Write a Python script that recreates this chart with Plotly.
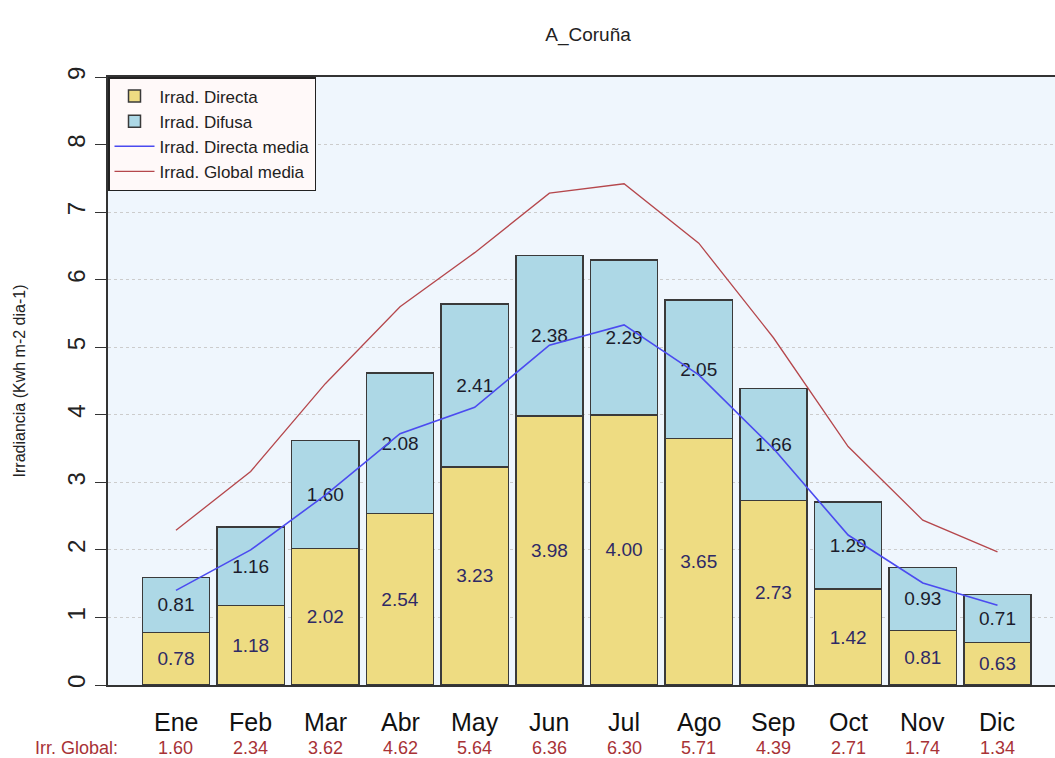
import plotly.graph_objects as go

meses = ['Ene', 'Feb', 'Mar', 'Abr', 'May', 'Jun', 'Jul', 'Ago', 'Sep', 'Oct', 'Nov', 'Dic']
directa = [0.78, 1.18, 2.02, 2.54, 3.23, 3.98, 4.00, 3.65, 2.73, 1.42, 0.81, 0.63]
difusa = [0.81, 1.16, 1.60, 2.08, 2.41, 2.38, 2.29, 2.05, 1.66, 1.29, 0.93, 0.71]
irr_global = ['1.60', '2.34', '3.62', '4.62', '5.64', '6.36', '6.30', '5.71', '4.39', '2.71', '1.74', '1.34']
directa_media = [1.40, 2.00, 2.81, 3.72, 4.11, 5.03, 5.33, 4.59, 3.50, 2.22, 1.51, 1.18]
global_media = [2.29, 3.16, 4.46, 5.60, 6.40, 7.28, 7.42, 6.54, 5.14, 3.53, 2.44, 1.97]

x = list(range(len(meses)))
font = 'Liberation Sans, Arial, sans-serif'

fig = go.Figure()

fig.add_trace(go.Bar(
    x=x, y=directa, name='Irrad. Directa', width=0.9,
    marker=dict(color='#EEDC82', line=dict(color='#3a3a3a', width=1.5)),
    text=[f'{v:.2f}' for v in directa], textposition='inside',
    insidetextanchor='middle', textangle=0, constraintext='none',
    textfont=dict(size=19, color='#2E2A66', family=font),
))
fig.add_trace(go.Bar(
    x=x, y=difusa, name='Irrad. Difusa', width=0.9,
    marker=dict(color='#ADD8E6', line=dict(color='#3a3a3a', width=1.5)),
    text=[f'{v:.2f}' for v in difusa], textposition='inside',
    insidetextanchor='middle', textangle=0, constraintext='none',
    textfont=dict(size=19, color='#1c1c2c', family=font),
))
fig.add_trace(go.Scatter(
    x=x, y=directa_media, mode='lines', name='Irrad. Directa media',
    line=dict(color='#4B4BF0', width=1.6),
))
fig.add_trace(go.Scatter(
    x=x, y=global_media, mode='lines', name='Irrad. Global media',
    line=dict(color='#B5474C', width=1.3),
))

# month names and global irradiance row under the axis
for i, (m, g) in enumerate(zip(meses, irr_global)):
    fig.add_annotation(x=i, y=0, xref='x', yref='paper', text=m, showarrow=False,
                       yanchor='middle', yshift=-37,
                       font=dict(size=25, color='#111111', family=font))
    fig.add_annotation(x=i, y=0, xref='x', yref='paper', text=g, showarrow=False,
                       yanchor='middle', yshift=-63,
                       font=dict(size=18, color='#A83236', family=font))
fig.add_annotation(x=-0.0, y=0, xref='paper', yref='paper', text='Irr. Global:',
                   showarrow=False, xanchor='right', yanchor='middle', xshift=12, yshift=-63,
                   font=dict(size=18, color='#A83236', family=font))

fig.update_layout(
    width=1055, height=758,
    margin=dict(l=108, r=0, t=77, b=73),
    barmode='stack',
    paper_bgcolor='white',
    plot_bgcolor='#EFF6FD',
    font=dict(family=font, color='#222222'),
    title=dict(text='A_Coruña', x=588 / 1055, xanchor='center', y=0.963,
               font=dict(size=19, color='#222222')),
    showlegend=True,
    legend=dict(x=0, y=1, xanchor='left', yanchor='top', traceorder='normal',
                bgcolor='#FFF9F9', bordercolor='#222222', borderwidth=1.5,
                font=dict(size=17, color='#222222'), tracegroupgap=0,
                itemwidth=40),
    xaxis=dict(range=[-0.91, 11.77], showticklabels=False, ticks='',
               showgrid=False, zeroline=False,
               showline=True, linecolor='#333333', linewidth=2, mirror=True),
    yaxis=dict(range=[0, 9], dtick=1, tickangle=-90,
               ticks='outside', ticklen=11, tickcolor='#333333', tickwidth=1.2,
               tickfont=dict(size=24, color='#222222'),
               showgrid=True, gridcolor='#CCCCCC', griddash='dot', gridwidth=1,
               zeroline=False, showline=True, linecolor='#333333', linewidth=2,
               title=dict(text='Irradiancia (Kwh m-2 dia-1)', font=dict(size=16, color='#222222'),
                          standoff=34)),
)

fig.write_html('out.html', config={'displayModeBar': False},
               post_script="document.body.style.margin='0px';")
